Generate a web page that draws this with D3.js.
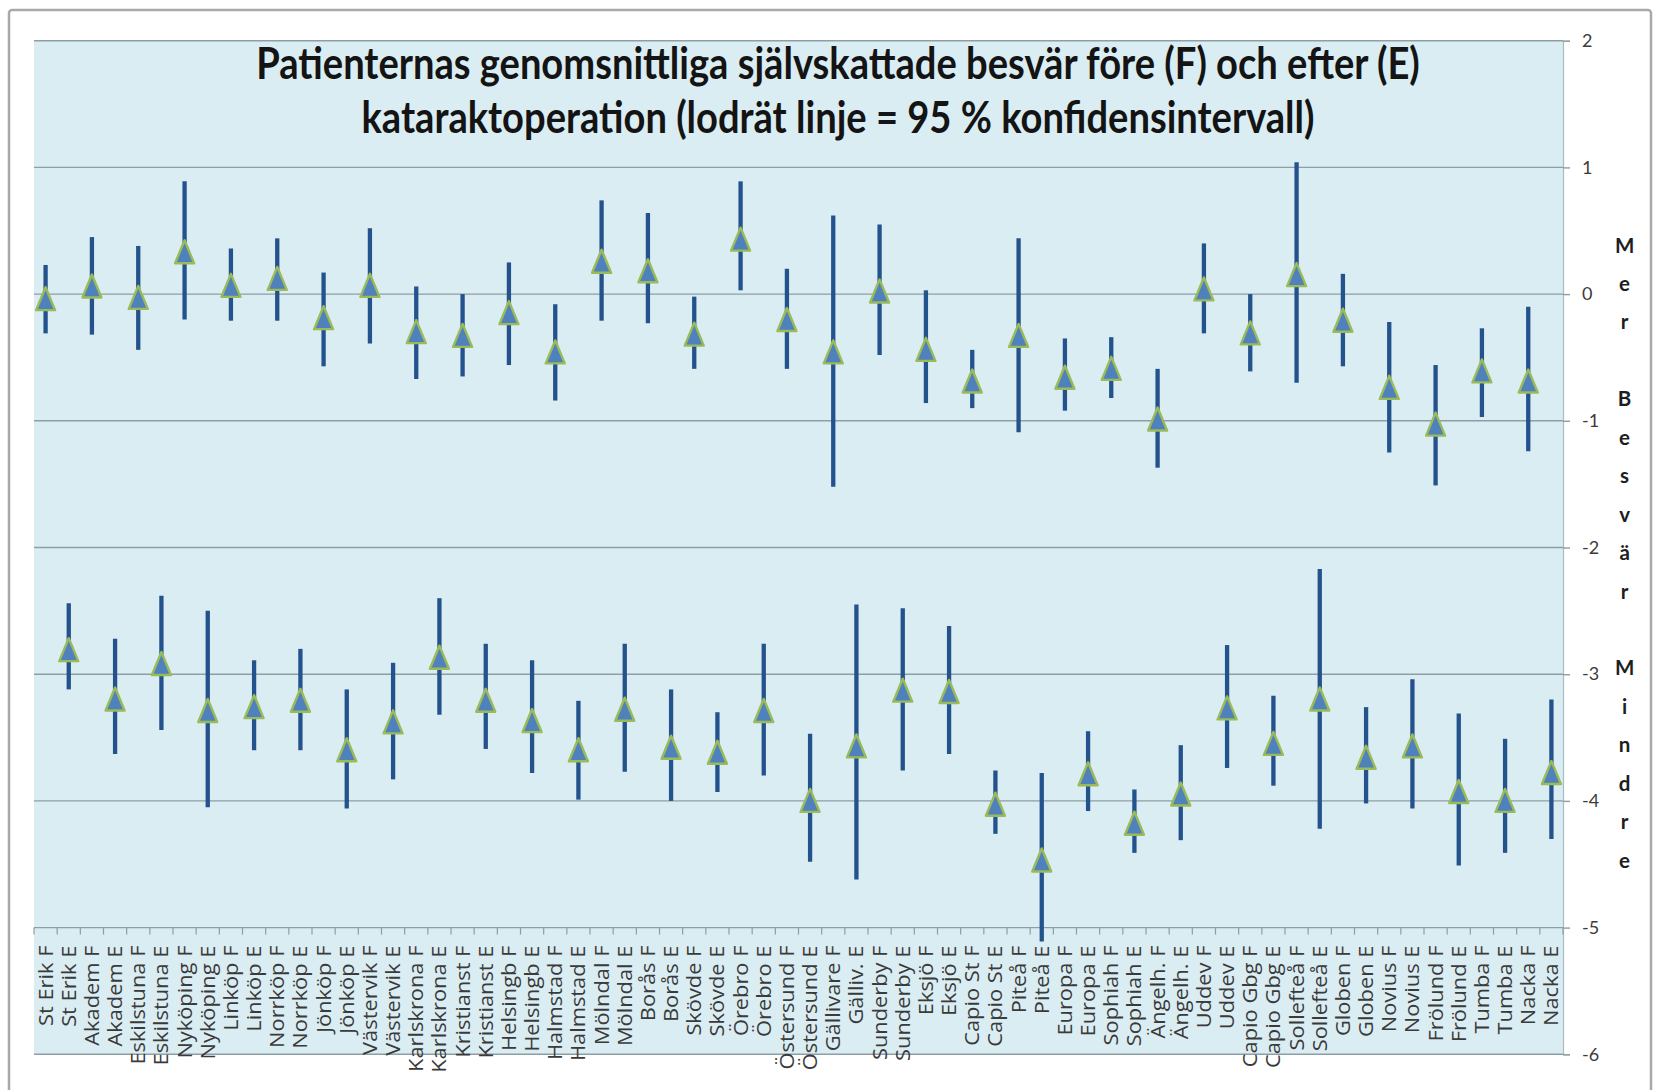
<!DOCTYPE html>
<html><head><meta charset="utf-8">
<script src="https://cdn.jsdelivr.net/npm/d3@7"></script>
<style>body{margin:0;background:#fff;} svg{display:block;}</style>
</head><body>
<svg id="c" width="1655" height="1090"></svg>
<script>
const categories = ["St Erik F","St Erik E","Akadem F","Akadem E","Eskilstuna F","Eskilstuna E","Nyköping F","Nyköping E","Linköp F","Linköp E","Norrköp F","Norrköp E","Jönköp F","Jönköp E","Västervik F","Västervik E","Karlskrona F","Karlskrona E","Kristianst F","Kristianst E","Helsingb F","Helsingb E","Halmstad F","Halmstad E","Mölndal F","Mölndal E","Borås F","Borås E","Skövde F","Skövde E","Örebro F","Örebro E","Östersund F","Östersund E","Gällivare F","Gälliv. E","Sunderby F","Sunderby E","Eksjö F","Eksjö E","Capio St F","Capio St E","Piteå F","Piteå E","Europa F","Europa E","Sophiah F","Sophiah E","Ängelh. F","Ängelh. E","Uddev F","Uddev E","Capio Gbg F","Capio Gbg E","Sollefteå F","Sollefteå E","Globen F","Globen E","Novius F","Novius E","Frölund F","Frölund E","Tumba F","Tumba E","Nacka F","Nacka E"];
const means = [-0.04,-2.81,0.06,-3.20,-0.03,-2.92,0.33,-3.29,0.065,-3.26,0.12,-3.21,-0.19,-3.60,0.065,-3.38,-0.30,-2.87,-0.33,-3.21,-0.15,-3.37,-0.46,-3.60,0.255,-3.28,0.18,-3.58,-0.32,-3.62,0.43,-3.29,-0.205,-4.00,-0.46,-3.57,0.02,-3.13,-0.44,-3.14,-0.69,-4.03,-0.33,-4.47,-0.66,-3.79,-0.59,-4.18,-0.99,-3.95,0.037,-3.27,-0.31,-3.55,0.15,-3.20,-0.21,-3.66,-0.74,-3.57,-1.03,-3.93,-0.61,-4.00,-0.69,-3.78];
const upper = [0.23,-2.44,0.45,-2.72,0.38,-2.38,0.89,-2.50,0.36,-2.89,0.44,-2.80,0.17,-3.12,0.52,-2.91,0.06,-2.40,0.0,-2.76,0.25,-2.89,-0.08,-3.21,0.74,-2.76,0.64,-3.12,-0.02,-3.30,0.89,-2.76,0.20,-3.47,0.62,-2.45,0.55,-2.48,0.03,-2.62,-0.44,-3.76,0.44,-3.78,-0.35,-3.45,-0.34,-3.91,-0.59,-3.56,0.40,-2.77,0.0,-3.17,1.04,-2.17,0.16,-3.26,-0.22,-3.04,-0.56,-3.31,-0.27,-3.51,-0.10,-3.20];
const lower = [-0.31,-3.12,-0.32,-3.63,-0.44,-3.44,-0.20,-4.05,-0.21,-3.60,-0.21,-3.60,-0.57,-4.06,-0.39,-3.83,-0.67,-3.32,-0.65,-3.59,-0.56,-3.78,-0.84,-3.99,-0.21,-3.77,-0.23,-4.00,-0.59,-3.93,0.03,-3.80,-0.59,-4.48,-1.52,-4.62,-0.48,-3.76,-0.86,-3.63,-0.90,-4.26,-1.09,-5.11,-0.92,-4.08,-0.82,-4.41,-1.37,-4.31,-0.31,-3.74,-0.61,-3.88,-0.70,-4.22,-0.57,-4.02,-1.25,-4.06,-1.51,-4.51,-0.97,-4.41,-1.24,-4.30];
const yTicks = [2,1,0,-1,-2,-3,-4,-5,-6];
const titleLines = ["Patienternas genomsnittliga självskattade besvär före (F) och efter (E)","kataraktoperation (lodrät linje = 95 % konfidensintervall)"];
const sideLabel = ["M","e","r","","B","e","s","v","ä","r","","M","i","n","d","r","e"];

const svg = d3.select("#c");
const plot = {left:34, right:1563, top:40.7, bottom:1054.3};
const x = d3.scaleBand().domain(categories).range([plot.left, plot.right]);
const y = d3.scaleLinear().domain([-6,2]).range([plot.bottom, plot.top]);
const gridColor = "#8d9ea4";

// outer chart border
svg.append("rect").attr("x",9).attr("y",10).attr("width",1642).attr("height",1095)
  .attr("rx",3).attr("fill","#fff").attr("stroke","#a9a9a9").attr("stroke-width",2.5);

// plot background
svg.append("rect").attr("x",plot.left).attr("y",plot.top)
  .attr("width",plot.right-plot.left).attr("height",plot.bottom-plot.top)
  .attr("fill","#DAEDF3");

// gridlines
svg.append("g").selectAll("line").data(yTicks).join("line")
  .attr("x1",plot.left).attr("x2",plot.right)
  .attr("y1",d=>y(d)).attr("y2",d=>y(d))
  .attr("stroke",gridColor).attr("stroke-width",1.4);

// right axis
const ra = svg.append("g").attr("transform",`translate(${plot.right},0)`)
  .call(d3.axisRight(y).tickValues(yTicks).tickSize(7).tickPadding(12).tickFormat(d=>String(d)));
ra.select(".domain").attr("stroke","#a9bcc2").attr("stroke-width",1.2);
ra.selectAll(".tick line").attr("stroke",gridColor).attr("stroke-width",1.4);
ra.selectAll(".tick text").attr("font-family","Lato").attr("font-size",18).attr("fill","#3c3c3c");

// bottom category axis at y = -5
const xa = svg.append("g").attr("transform",`translate(0,${y(-5)})`)
  .call(d3.axisBottom(x).tickSize(0).tickPadding(0));
xa.select(".domain").remove();
xa.selectAll(".tick text")
  .attr("font-family","Open Sans").attr("font-size",19.5).attr("fill","#3a3a3a")
  .attr("text-anchor","end").attr("x",0).attr("y",0).attr("dy","0.36em")
  .attr("transform","translate(0,18) rotate(-90) scale(1.12,1)");
// boundary ticks
const bounds = categories.map(c=>x(c)).concat([plot.right]);
svg.append("g").selectAll("line").data(bounds).join("line")
  .attr("x1",d=>d).attr("x2",d=>d).attr("y1",y(-5)).attr("y2",y(-5)+7)
  .attr("stroke",gridColor).attr("stroke-width",1.2);

// error bars
const bw = x.bandwidth();
svg.append("g").selectAll("line").data(categories).join("line")
  .attr("x1",(c)=>x(c)+bw/2).attr("x2",(c)=>x(c)+bw/2)
  .attr("y1",(c,i)=>y(upper[i])).attr("y2",(c,i)=>y(lower[i]))
  .attr("stroke","#24528d").attr("stroke-width",4.3);

// markers
svg.append("g").selectAll("path").data(categories).join("path")
  .attr("transform",(c,i)=>`translate(${x(c)+bw/2},${y(means[i])})`)
  .attr("d","M0,-12L9.5,11L-9.5,11Z")
  .attr("fill","#4F81BD").attr("stroke","#9BBB59").attr("stroke-width",2.4).attr("stroke-linejoin","round");

// title
const tg = svg.append("g");
const baselines = [78.5, 133];
const tcx = 838;
const t1 = tg.append("text").text(titleLines[0]).attr("font-family","Lato").attr("font-weight",700).attr("font-size",40);
const w1 = t1.node().getComputedTextLength();
const fs = 40*1164/w1;
const sy = 31.5/(0.7165*fs);
t1.remove();
titleLines.forEach((t,i)=>{
  tg.append("text").text(t)
    .attr("font-family","Lato").attr("font-weight",700).attr("font-size",fs)
    .attr("fill","#141414").attr("text-anchor","middle")
    .attr("transform",`translate(${tcx},${baselines[i]}) scale(1,${sy})`);
});

// right side vertical word stack
svg.append("g").selectAll("text").data(sideLabel).join("text")
  .attr("x",1624.6).attr("y",(d,i)=>252.5+i*38.45)
  .attr("text-anchor","middle").attr("font-family","Lato").attr("font-weight",700)
  .attr("font-size",20.5).attr("fill","#1e1e1e").text(d=>d);
</script>
</body></html>
